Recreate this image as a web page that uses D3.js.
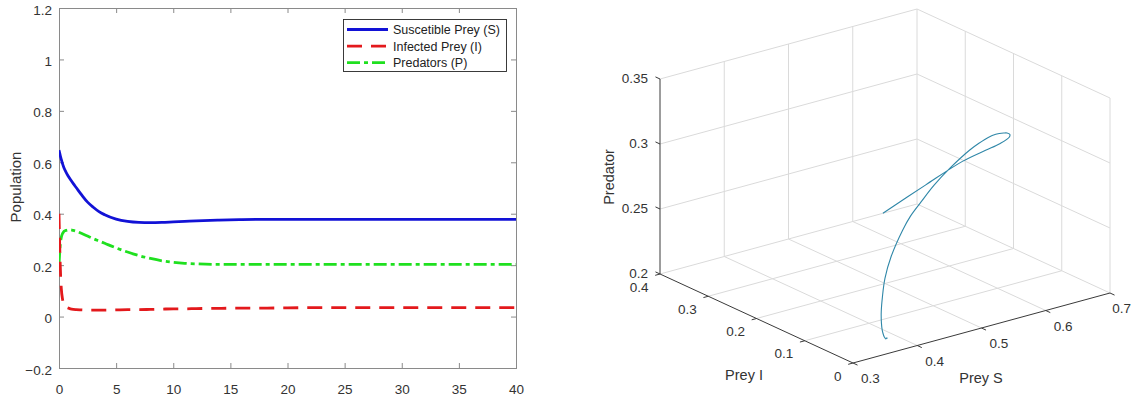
<!DOCTYPE html>
<html><head><meta charset="utf-8">
<script src="https://cdn.jsdelivr.net/npm/d3@7"></script>
<style>
body{margin:0;background:#fff}
svg{display:block}
text{font-family:Arial,"Liberation Sans",sans-serif;}
</style>
</head><body>
<svg id="c" width="1132" height="398"></svg>
<script>
// ---------- data (time course, shared by both panels) ----------
const tData = [0,0.05,0.1,0.15,0.2,0.3,0.4,0.5,0.6,0.8,1,1.25,1.5,2,2.5,3,3.5,4,5,6,7,8,9,10,11,12,14,16,18,20,25,30,35,40];
const preyS = [0.647,0.638,0.628,0.619,0.611,0.596,0.583,0.572,0.563,0.547,0.533,0.517,0.502,0.472,0.445,0.425,0.408,0.396,0.379,0.370,0.366,0.365,0.366,0.368,0.370,0.372,0.375,0.377,0.378,0.378,0.378,0.378,0.378,0.378];
const preyI = [0.40,0.30,0.21,0.15,0.11,0.07,0.052,0.043,0.038,0.033,0.030,0.028,0.027,0.026,0.025,0.025,0.025,0.025,0.026,0.027,0.027,0.028,0.029,0.030,0.030,0.031,0.032,0.033,0.033,0.034,0.035,0.035,0.035,0.035];
const predP = [0.20,0.24,0.275,0.295,0.308,0.322,0.329,0.333,0.335,0.337,0.337,0.335,0.332,0.323,0.313,0.303,0.294,0.285,0.267,0.251,0.237,0.226,0.217,0.211,0.207,0.205,0.203,0.203,0.203,0.203,0.203,0.203,0.203,0.203];

const seriesNames = ["Suscetible Prey (S)","Infected Prey (I)","Predators (P)"];
const xTicks = [0,5,10,15,20,25,30,35,40];
const yTicks = [-0.2,0,0.2,0.4,0.6,0.8,1,1.2];

const sTicks = [0.3,0.4,0.5,0.6,0.7];
const iTicks = [0,0.1,0.2,0.3,0.4];
const pTicks = [0.2,0.25,0.3,0.35];
const axisTitles3d = ["Prey S","Prey I","Predator"];

const svg = d3.select("#c");
const fmt = d => d3.format("~g")(+(+d).toFixed(3));

// ================= LEFT PANEL =================
const x = d3.scaleLinear().domain([0,40]).range([59,516]);
const y = d3.scaleLinear().domain([-0.2,1.2]).range([368,8]);
const axCol = "#8a8a8a", txtCol = "#333";

const L = svg.append("g");
L.append("clipPath").attr("id","clipL").append("rect")
  .attr("x",59).attr("y",8).attr("width",457).attr("height",360);

function styleAxis(g, fs){
  g.select(".domain").remove();
  g.selectAll(".tick line").attr("stroke",axCol);
  g.selectAll(".tick text").attr("fill",txtCol).style("font-size",fs+"px");
}
styleAxis(L.append("g").attr("transform","translate(0,368)")
  .call(d3.axisBottom(x).tickValues(xTicks).tickSizeInner(-5).tickSizeOuter(0).tickPadding(16.5).tickFormat(fmt)),13.5);
styleAxis(L.append("g").attr("transform","translate(0,8)")
  .call(d3.axisTop(x).tickValues(xTicks).tickSizeInner(-5).tickSizeOuter(0).tickFormat(()=>"")),13.5);
const gyl = L.append("g").attr("transform","translate(59,0)")
  .call(d3.axisLeft(y).tickValues(yTicks).tickSizeInner(-5).tickSizeOuter(0).tickPadding(7).tickFormat(fmt));
styleAxis(gyl,13.5);
gyl.selectAll(".tick text").attr("dy","0.45em");
styleAxis(L.append("g").attr("transform","translate(516,0)")
  .call(d3.axisRight(y).tickValues(yTicks).tickSizeInner(-5).tickSizeOuter(0).tickFormat(()=>"")),13.5);

L.append("rect").attr("x",59.5).attr("y",8.5).attr("width",457).attr("height",360)
  .attr("fill","none").attr("stroke",axCol).attr("stroke-width",1);

L.append("text").attr("transform","translate(16,187) rotate(-90)")
  .attr("text-anchor","middle").attr("dy","0.35em").attr("fill",txtCol)
  .style("font-size","15px").text("Population");

const styles = [
  {color:"#1212d6", dash:null},
  {color:"#e3191c", dash:"15,9"},
  {color:"#1fe01f", dash:"13,4,4,4"}
];
const seriesVals = [preyS, preyI, predP];
const line2d = d3.line().x((d,i)=>x(tData[i])).y(d=>y(d)).curve(d3.curveMonotoneX);
const plotG = L.append("g").attr("clip-path","url(#clipL)");
[2,1,0].forEach(k=>{
  plotG.append("path").attr("d",line2d(seriesVals[k]))
    .attr("fill","none").attr("stroke",styles[k].color).attr("stroke-width",2.8)
    .attr("stroke-dasharray",styles[k].dash);
});

// legend
const lg = L.append("g");
lg.append("rect").attr("x",343.5).attr("y",19.5).attr("width",163).attr("height",52)
  .attr("fill","#fff").attr("stroke","#262626").attr("stroke-width",0.9);
seriesNames.forEach((name,k)=>{
  const yy = 29.5 + k*16.6;
  lg.append("line").attr("x1",347).attr("x2",388).attr("y1",yy).attr("y2",yy)
    .attr("stroke",styles[k].color).attr("stroke-width",2.8)
    .attr("stroke-dasharray",styles[k].dash);
  lg.append("text").attr("x",393).attr("y",yy).attr("dy","0.36em")
    .attr("fill","#222").style("font-size","12.5px").text(name);
});

// ================= RIGHT PANEL (3D view) =================
const O = [853,363];
const eS = [257,-70], eI = [-193,-89], eP = [0,-195];
const fS = d3.scaleLinear().domain([0.3,0.7]).range([0,1]);
const fI = d3.scaleLinear().domain([0,0.4]).range([0,1]);
const fP = d3.scaleLinear().domain([0.2,0.35]).range([0,1]);
function proj(s,i,p){
  const a=fS(s), b=fI(i), c=fP(p);
  return [O[0]+a*eS[0]+b*eI[0]+c*eP[0], O[1]+a*eS[1]+b*eI[1]+c*eP[1]];
}
const R = svg.append("g");
const gridCol = "#dadada", darkAx = "#3a3a3a";
function seg(p1,p2,col,w){
  const a=proj(...p1), b=proj(...p2);
  R.append("line").attr("x1",a[0]).attr("y1",a[1]).attr("x2",b[0]).attr("y2",b[1])
    .attr("stroke",col).attr("stroke-width",w);
}
// wall I = 0.4
sTicks.slice(1).forEach(s=>seg([s,0.4,0.2],[s,0.4,0.35],gridCol,1));
pTicks.slice(1).forEach(p=>seg([0.3,0.4,p],[0.7,0.4,p],gridCol,1));
// wall S = 0.7
iTicks.slice(0,4).forEach(i=>seg([0.7,i,0.2],[0.7,i,0.35],gridCol,1));
pTicks.slice(1).forEach(p=>seg([0.7,0,p],[0.7,0.4,p],gridCol,1));
// floor
sTicks.slice(1).forEach(s=>seg([s,0,0.2],[s,0.4,0.2],gridCol,1));
iTicks.slice(1).forEach(i=>seg([0.3,i,0.2],[0.7,i,0.2],gridCol,1));
// axis lines
seg([0.3,0,0.2],[0.7,0,0.2],darkAx,1);
seg([0.3,0,0.2],[0.3,0.4,0.2],darkAx,1);
seg([0.3,0.4,0.2],[0.3,0.4,0.35],darkAx,1);

function unit(v){const n=Math.hypot(v[0],v[1]);return [v[0]/n,v[1]/n];}
const tl = 5;
// S ticks (outward = -I)
const dS = unit([-eI[0],-eI[1]]);
sTicks.forEach(s=>{
  const a=proj(s,0,0.2);
  R.append("line").attr("x1",a[0]).attr("y1",a[1]).attr("x2",a[0]+dS[0]*tl).attr("y2",a[1]+dS[1]*tl)
    .attr("stroke",darkAx).attr("stroke-width",1);
  const t = R.append("text").attr("x",a[0]+8).attr("y",a[1]+15.5).attr("dy","0.35em")
    .attr("fill",txtCol).style("font-size","13.5px").text(fmt(s));
  const w = t.node().getComputedTextLength();
  if (a[0]+8+w > 1131) t.attr("x", 1131 - w);
});
// I ticks (outward = -S)
const dI = unit([-eS[0],-eS[1]]);
iTicks.forEach(i=>{
  const a=proj(0.3,i,0.2);
  R.append("line").attr("x1",a[0]).attr("y1",a[1]).attr("x2",a[0]+dI[0]*tl).attr("y2",a[1]+dI[1]*tl)
    .attr("stroke",darkAx).attr("stroke-width",1);
  R.append("text").attr("x",a[0]-11.5).attr("y",a[1]+13).attr("dy","0.35em")
    .attr("text-anchor","end").attr("fill",txtCol).style("font-size","13.5px").text(fmt(i));
});
// P ticks (outward = +I)
const dP = unit(eI);
pTicks.forEach(p=>{
  const a=proj(0.3,0.4,p);
  R.append("line").attr("x1",a[0]).attr("y1",a[1]).attr("x2",a[0]+dP[0]*tl).attr("y2",a[1]+dP[1]*tl)
    .attr("stroke",darkAx).attr("stroke-width",1);
  R.append("text").attr("x",a[0]-12).attr("y",a[1]-1).attr("dy","0.35em")
    .attr("text-anchor","end").attr("fill",txtCol).style("font-size","13.5px").text(fmt(p));
});
// axis titles
R.append("text").attr("x",981).attr("y",378).attr("dy","0.35em").attr("text-anchor","middle")
  .attr("fill",txtCol).style("font-size","14.5px").text(axisTitles3d[0]);
R.append("text").attr("x",744).attr("y",375).attr("dy","0.35em").attr("text-anchor","middle")
  .attr("fill",txtCol).style("font-size","14.5px").text(axisTitles3d[1]);
R.append("text").attr("transform","translate(609,177) rotate(-90)").attr("dy","0.35em")
  .attr("text-anchor","middle").attr("fill",txtCol).style("font-size","14.5px").text(axisTitles3d[2]);

// trajectory
const pts = tData.map((t,i)=>proj(preyS[i],preyI[i],predP[i]));
R.append("path").attr("d",d3.line().curve(d3.curveCatmullRom.alpha(0.5))(pts))
  .attr("fill","none").attr("stroke","#2f87a8").attr("stroke-width",1.1);
</script>
</body></html>
